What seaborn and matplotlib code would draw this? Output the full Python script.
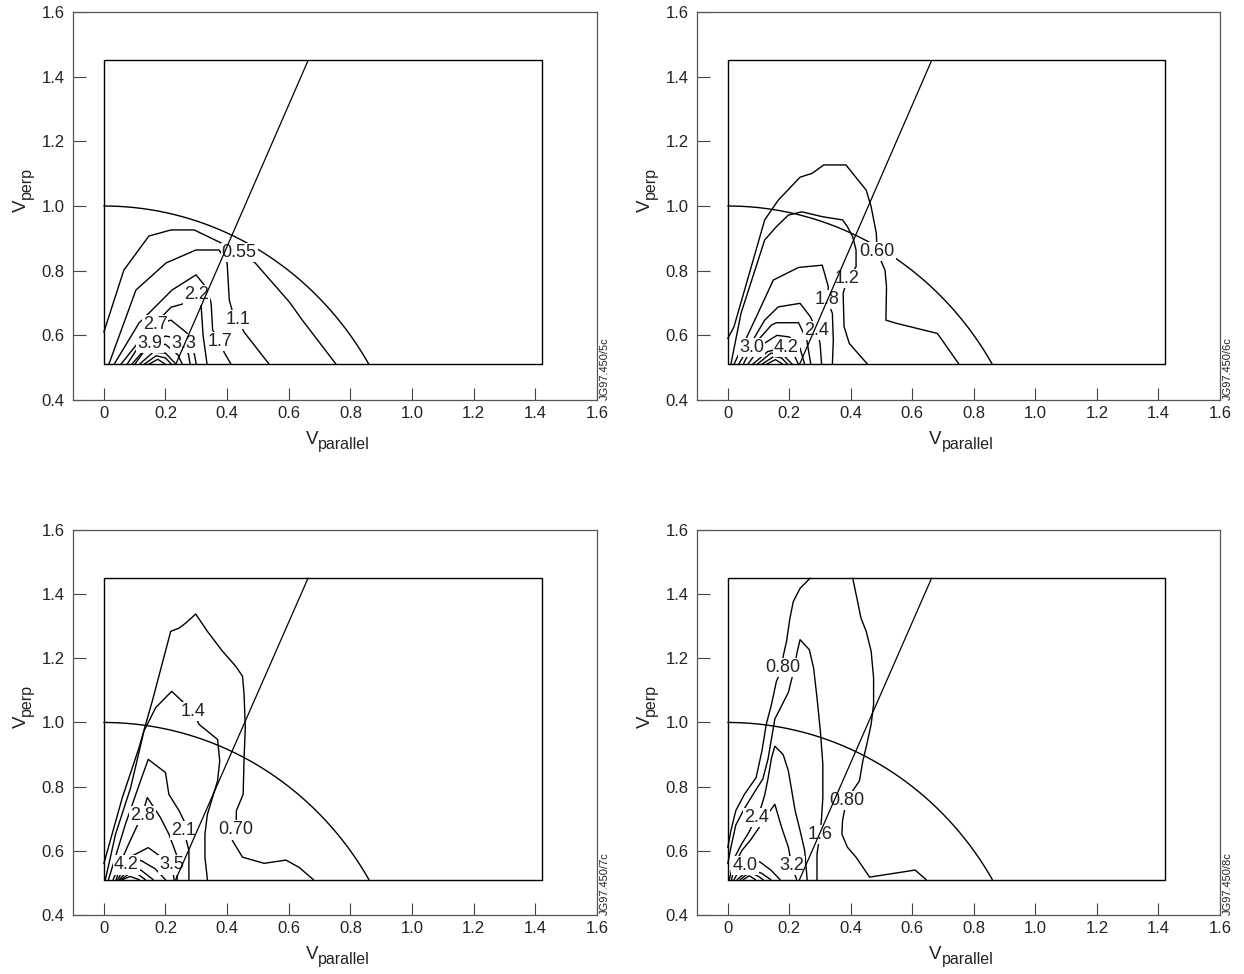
import numpy as np
import pandas as pd
import matplotlib
matplotlib.use("Agg")
import matplotlib.pyplot as plt
import matplotlib.transforms as mtransforms
import seaborn as sns

sns.set_theme(style="ticks")
plt.rcParams["font.family"] = ["Liberation Sans", "DejaVu Sans"]
plt.rcParams["mathtext.default"] = "regular"

# guides drawn in every panel
V_PAR_MAX = 1.42
V_PERP_MIN = 0.51
V_PERP_MAX = 1.45
PITCH_SLOPE = 0.457      # v_par / v_perp along the slanted line
CIRCLE_R = 1.0

x_ticks = [0, 0.2, 0.4, 0.6, 0.8, 1.0, 1.2, 1.4, 1.6]
x_ticklabels = ["0", "0.2", "0.4", "0.6", "0.8", "1.0", "1.2", "1.4", "1.6"]
y_ticks = [0.4, 0.6, 0.8, 1.0, 1.2, 1.4, 1.6]
y_ticklabels = ["0.4", "0.6", "0.8", "1.0", "1.2", "1.4", "1.6"]

# ---- panel JG97.450/5c : contour level -> polyline
c5_contours = [
    (0.55, [(0, 0.61), (0.065, 0.802), (0.146, 0.907), (0.218, 0.926), (0.293, 0.926), (0.38, 0.886),
            (0.439, 0.855), (0.491, 0.824), (0.602, 0.703), (0.644, 0.647), (0.754, 0.51)]),
    (1.1, [(0.016, 0.51), (0.104, 0.74), (0.202, 0.824), (0.299, 0.864), (0.374, 0.864), (0.4, 0.824),
           (0.407, 0.709), (0.416, 0.678), (0.436, 0.65), (0.455, 0.61), (0.537, 0.51)]),
    (1.65, [(0.033, 0.51), (0.114, 0.638), (0.221, 0.74), (0.299, 0.787), (0.332, 0.749), (0.348, 0.7),
            (0.353, 0.616), (0.377, 0.582), (0.39, 0.548), (0.413, 0.51)]),
    (2.2, [(0.055, 0.51), (0.13, 0.6), (0.218, 0.687), (0.267, 0.70), (0.302, 0.725), (0.315, 0.70),
           (0.322, 0.6), (0.335, 0.51)]),
    (2.75, [(0.075, 0.51), (0.13, 0.59), (0.166, 0.633), (0.218, 0.647), (0.27, 0.607), (0.29, 0.56),
            (0.3, 0.51)]),
    (3.3, [(0.09, 0.51), (0.14, 0.565), (0.2, 0.598), (0.24, 0.59), (0.26, 0.576), (0.275, 0.54),
           (0.28, 0.51)]),
    (3.85, [(0.10, 0.51), (0.13, 0.55), (0.15, 0.576), (0.2, 0.572), (0.24, 0.54), (0.255, 0.51)]),
    (4.4, [(0.115, 0.51), (0.16, 0.548), (0.2, 0.545), (0.235, 0.51)]),
    (4.95, [(0.13, 0.51), (0.17, 0.537), (0.2, 0.53), (0.22, 0.51)]),
    (5.5, [(0.145, 0.51), (0.175, 0.526), (0.2, 0.51)]),
]
c5_label_text = ["0.55", "1.1", "1.7", "2.2", "2.7", "3.3", "3.9"]
c5_label_x = [0.439, 0.436, 0.377, 0.302, 0.166, 0.26, 0.15]
c5_label_y = [0.855, 0.650, 0.582, 0.725, 0.633, 0.576, 0.576]

# ---- panel JG97.450/6c
c6_contours = [
    (0.6, [(0, 0.59), (0.02, 0.626), (0.076, 0.811), (0.12, 0.957), (0.164, 1.018), (0.235, 1.089),
           (0.274, 1.101), (0.312, 1.127), (0.384, 1.127), (0.428, 1.075), (0.45, 1.049), (0.466, 0.998),
           (0.483, 0.915), (0.485, 0.859), (0.511, 0.802), (0.516, 0.75), (0.514, 0.647), (0.549, 0.637),
           (0.681, 0.606), (0.697, 0.585), (0.752, 0.51)]),
    (1.2, [(0.01, 0.51), (0.043, 0.668), (0.12, 0.895), (0.158, 0.936), (0.197, 0.972), (0.241, 0.982),
           (0.307, 0.967), (0.373, 0.957), (0.389, 0.936), (0.406, 0.905), (0.417, 0.864), (0.417, 0.812),
           (0.389, 0.776), (0.375, 0.73), (0.378, 0.627), (0.395, 0.575), (0.455, 0.51)]),
    (1.8, [(0.02, 0.51), (0.098, 0.668), (0.148, 0.771), (0.23, 0.81), (0.307, 0.817), (0.327, 0.75),
           (0.323, 0.711), (0.34, 0.668), (0.343, 0.585), (0.34, 0.51)]),
    (2.4, [(0.035, 0.51), (0.12, 0.647), (0.164, 0.688), (0.235, 0.699), (0.268, 0.658), (0.29, 0.616),
           (0.3, 0.575), (0.305, 0.51)]),
    (3.0, [(0.05, 0.51), (0.078, 0.563), (0.142, 0.632), (0.158, 0.639), (0.23, 0.639), (0.257, 0.585),
           (0.27, 0.51)]),
    (3.6, [(0.065, 0.51), (0.11, 0.57), (0.16, 0.60), (0.2, 0.595), (0.235, 0.56), (0.25, 0.51)]),
    (4.2, [(0.08, 0.51), (0.13, 0.55), (0.19, 0.563), (0.215, 0.54), (0.23, 0.51)]),
    (4.8, [(0.095, 0.51), (0.14, 0.545), (0.18, 0.54), (0.21, 0.51)]),
    (5.4, [(0.11, 0.51), (0.15, 0.535), (0.175, 0.53), (0.195, 0.51)]),
    (6.0, [(0.125, 0.51), (0.155, 0.525), (0.18, 0.51)]),
]
c6_label_text = ["0.60", "1.2", "1.8", "2.4", "3.0", "4.2"]
c6_label_x = [0.485, 0.389, 0.323, 0.29, 0.078, 0.19]
c6_label_y = [0.859, 0.776, 0.711, 0.616, 0.563, 0.563]

# ---- panel JG97.450/7c
c7_contours = [
    (0.7, [(0, 0.56), (0.06, 0.766), (0.114, 0.921), (0.157, 1.066), (0.217, 1.284), (0.244, 1.294),
           (0.266, 1.31), (0.298, 1.338), (0.336, 1.284), (0.385, 1.222), (0.428, 1.175), (0.45, 1.144),
           (0.455, 1.087), (0.459, 0.983), (0.455, 0.89), (0.452, 0.776), (0.43, 0.725), (0.429, 0.665),
           (0.417, 0.632), (0.45, 0.58), (0.52, 0.561), (0.591, 0.571), (0.634, 0.548), (0.68, 0.51)]),
    (1.4, [(0.005, 0.51), (0.038, 0.652), (0.087, 0.797), (0.13, 0.973), (0.168, 1.046), (0.22, 1.097),
           (0.26, 1.061), (0.289, 1.034), (0.309, 0.994), (0.369, 0.947), (0.376, 0.88), (0.369, 0.818),
           (0.336, 0.714), (0.328, 0.652), (0.328, 0.58), (0.336, 0.51)]),
    (2.1, [(0.015, 0.51), (0.07, 0.683), (0.119, 0.818), (0.144, 0.885), (0.2, 0.844), (0.211, 0.776),
           (0.244, 0.725), (0.26, 0.694), (0.26, 0.662), (0.276, 0.601), (0.276, 0.51)]),
    (2.8, [(0.03, 0.51), (0.08, 0.62), (0.124, 0.711), (0.141, 0.766), (0.152, 0.75), (0.184, 0.703),
           (0.211, 0.652), (0.235, 0.59), (0.238, 0.51)]),
    (3.5, [(0.04, 0.51), (0.06, 0.569), (0.114, 0.595), (0.144, 0.61), (0.173, 0.59), (0.221, 0.556),
           (0.228, 0.51)]),
    (4.2, [(0.045, 0.51), (0.072, 0.556), (0.12, 0.57), (0.165, 0.545), (0.2, 0.51)]),
    (4.9, [(0.05, 0.51), (0.075, 0.535), (0.12, 0.54), (0.16, 0.51)]),
    (5.6, [(0.055, 0.51), (0.08, 0.527), (0.11, 0.527), (0.135, 0.51)]),
    (6.3, [(0.06, 0.51), (0.085, 0.52), (0.115, 0.51)]),
]
c7_label_text = ["0.70", "1.4", "2.1", "2.8", "3.5", "4.2"]
c7_label_x = [0.429, 0.289, 0.26, 0.124, 0.221, 0.072]
c7_label_y = [0.665, 1.034, 0.662, 0.711, 0.556, 0.556]

# ---- panel JG97.450/8c
c8_contours = [
    (0.8, [(0.268, 1.45), (0.235, 1.418), (0.213, 1.377), (0.202, 1.325), (0.191, 1.253), (0.18, 1.206),
           (0.178, 1.171), (0.158, 1.128), (0.142, 1.056), (0.125, 0.994), (0.111, 0.911), (0.092, 0.828),
           (0.054, 0.776), (0.026, 0.725), (0.01, 0.662), (0, 0.61)]),
    (0.8, [(0.406, 1.45), (0.422, 1.377), (0.433, 1.325), (0.45, 1.284), (0.466, 1.222), (0.474, 1.139),
           (0.474, 1.056), (0.466, 0.994), (0.452, 0.932), (0.439, 0.88), (0.428, 0.818), (0.386, 0.758),
           (0.373, 0.694), (0.371, 0.652), (0.389, 0.611), (0.417, 0.58), (0.439, 0.549), (0.461, 0.518),
           (0.609, 0.54), (0.645, 0.51)]),
    (1.6, [(0, 0.56), (0.01, 0.61), (0.026, 0.68), (0.054, 0.732), (0.087, 0.783), (0.114, 0.824),
           (0.131, 0.887), (0.142, 0.949), (0.153, 1.011), (0.175, 1.052), (0.197, 1.094), (0.213, 1.155),
           (0.225, 1.217), (0.235, 1.258), (0.265, 1.227), (0.279, 1.17), (0.29, 1.077), (0.301, 0.973),
           (0.309, 0.87), (0.309, 0.766), (0.305, 0.704), (0.30, 0.652), (0.29, 0.59), (0.29, 0.51)]),
    (2.4, [(0.005, 0.51), (0.021, 0.577), (0.043, 0.618), (0.07, 0.66), (0.092, 0.705), (0.109, 0.738),
           (0.12, 0.774), (0.131, 0.826), (0.142, 0.889), (0.153, 0.926), (0.18, 0.9), (0.197, 0.849),
           (0.208, 0.787), (0.219, 0.725), (0.235, 0.663), (0.25, 0.601), (0.258, 0.51)]),
    (3.2, [(0.012, 0.51), (0.025, 0.56), (0.045, 0.6), (0.075, 0.635), (0.1, 0.67), (0.13, 0.715),
           (0.153, 0.745), (0.175, 0.673), (0.197, 0.611), (0.208, 0.553), (0.224, 0.51)]),
    (4.0, [(0.02, 0.51), (0.035, 0.535), (0.056, 0.553), (0.085, 0.568), (0.105, 0.565), (0.14, 0.54),
           (0.17, 0.51)]),
    (4.8, [(0.03, 0.51), (0.055, 0.53), (0.08, 0.54), (0.11, 0.53), (0.14, 0.51)]),
    (5.6, [(0.04, 0.51), (0.06, 0.525), (0.08, 0.53), (0.1, 0.52), (0.115, 0.51)]),
    (6.4, [(0.05, 0.51), (0.07, 0.522), (0.09, 0.51)]),
]
c8_label_text = ["0.80", "0.80", "1.6", "2.4", "3.2", "4.0"]
c8_label_x = [0.178, 0.386, 0.30, 0.092, 0.208, 0.056]
c8_label_y = [1.171, 0.758, 0.652, 0.705, 0.553, 0.553]

panel_tags = ["JG97.450/5c", "JG97.450/6c", "JG97.450/7c", "JG97.450/8c"]
# axes boxes in figure fraction (left, bottom, width, height)
panel_boxes = [
    [0.0587, 0.5893, 0.4212, 0.3984],
    [0.5603, 0.5893, 0.4204, 0.3984],
    [0.0587, 0.0606, 0.4212, 0.3953],
    [0.5603, 0.0606, 0.4204, 0.3953],
]


def contour_frame(contours):
    rows = []
    for seg, (level, pts) in enumerate(contours):
        for vx, vy in pts:
            rows.append((seg, level, vx, vy))
    return pd.DataFrame(rows, columns=["seg", "level", "vpar", "vperp"])


def axis_name(ax, main, sub, which):
    # big "V" with a near full-size subscript, like the original labels
    fig = ax.figure
    if which == "x":
        t1 = mtransforms.offset_copy(ax.transAxes, fig=fig, x=-12, y=-32, units="points")
        t2 = mtransforms.offset_copy(ax.transAxes, fig=fig, x=-12, y=-35.5, units="points")
        ax.text(0.5, 0, main, transform=t1, ha="right", va="baseline", fontsize=13.5, color="#222222")
        ax.text(0.5, 0, sub, transform=t2, ha="left", va="baseline", fontsize=11.5, color="#222222")
    else:
        t1 = mtransforms.offset_copy(ax.transAxes, fig=fig, x=-34, y=5, units="points")
        t2 = mtransforms.offset_copy(ax.transAxes, fig=fig, x=-30.5, y=5, units="points")
        ax.text(0, 0.5, main, transform=t1, ha="right", va="baseline", rotation=90,
                rotation_mode="anchor", fontsize=13.5, color="#222222")
        ax.text(0, 0.5, sub, transform=t2, ha="left", va="baseline", rotation=90,
                rotation_mode="anchor", fontsize=11.5, color="#222222")


def draw_panel(ax, contours, lab_text, lab_x, lab_y, tag):
    df = contour_frame(contours)
    sns.lineplot(data=df, x="vpar", y="vperp", units="seg", estimator=None, sort=False,
                 color="black", linewidth=1.0, ax=ax, legend=False, zorder=2)

    # box, unit circle and the slanted line
    ax.plot([0, V_PAR_MAX, V_PAR_MAX, 0, 0],
            [V_PERP_MIN, V_PERP_MIN, V_PERP_MAX, V_PERP_MAX, V_PERP_MIN],
            color="black", lw=1.0, zorder=2)
    th = np.linspace(np.arcsin(V_PERP_MIN / CIRCLE_R), np.pi / 2, 200)
    ax.plot(CIRCLE_R * np.cos(th), CIRCLE_R * np.sin(th), color="black", lw=1.0, zorder=2)
    ax.plot([PITCH_SLOPE * V_PERP_MIN, PITCH_SLOPE * V_PERP_MAX], [V_PERP_MIN, V_PERP_MAX],
            color="black", lw=0.9, zorder=5)

    for s, lx, ly in zip(lab_text, lab_x, lab_y):
        ax.text(lx, ly, s, ha="center", va="center", fontsize=13, color="#222222", zorder=4,
                bbox=dict(boxstyle="square,pad=0.06", fc="white", ec="none"))

    ax.set_xlim(-0.1, 1.6)
    ax.set_ylim(0.4, 1.6)
    ax.set_xticks(x_ticks)
    ax.set_xticklabels(x_ticklabels)
    ax.set_yticks(y_ticks)
    ax.set_yticklabels(y_ticklabels)
    ax.tick_params(direction="in", length=9, width=0.8, color="#444444", labelsize=12,
                   labelcolor="#222222")
    ax.tick_params(axis="x", pad=4)
    ax.tick_params(axis="y", pad=6)
    for sp in ax.spines.values():
        sp.set_color("#555555")
        sp.set_linewidth(0.9)
    ax.set_xlabel("")
    ax.set_ylabel("")
    axis_name(ax, "V", "parallel", "x")
    axis_name(ax, "V", "perp", "y")
    ax.text(1.006, 0.0, tag, transform=ax.transAxes, rotation=90, fontsize=8,
            ha="left", va="bottom", color="#222222")


fig = plt.figure(figsize=(12.44, 9.74), dpi=100)
panels = [
    (c5_contours, c5_label_text, c5_label_x, c5_label_y),
    (c6_contours, c6_label_text, c6_label_x, c6_label_y),
    (c7_contours, c7_label_text, c7_label_x, c7_label_y),
    (c8_contours, c8_label_text, c8_label_x, c8_label_y),
]
for box, tag, (cont, lt, lx, ly) in zip(panel_boxes, panel_tags, panels):
    ax = fig.add_axes(box)
    draw_panel(ax, cont, lt, lx, ly, tag)

fig.savefig("out.png", dpi=100)
